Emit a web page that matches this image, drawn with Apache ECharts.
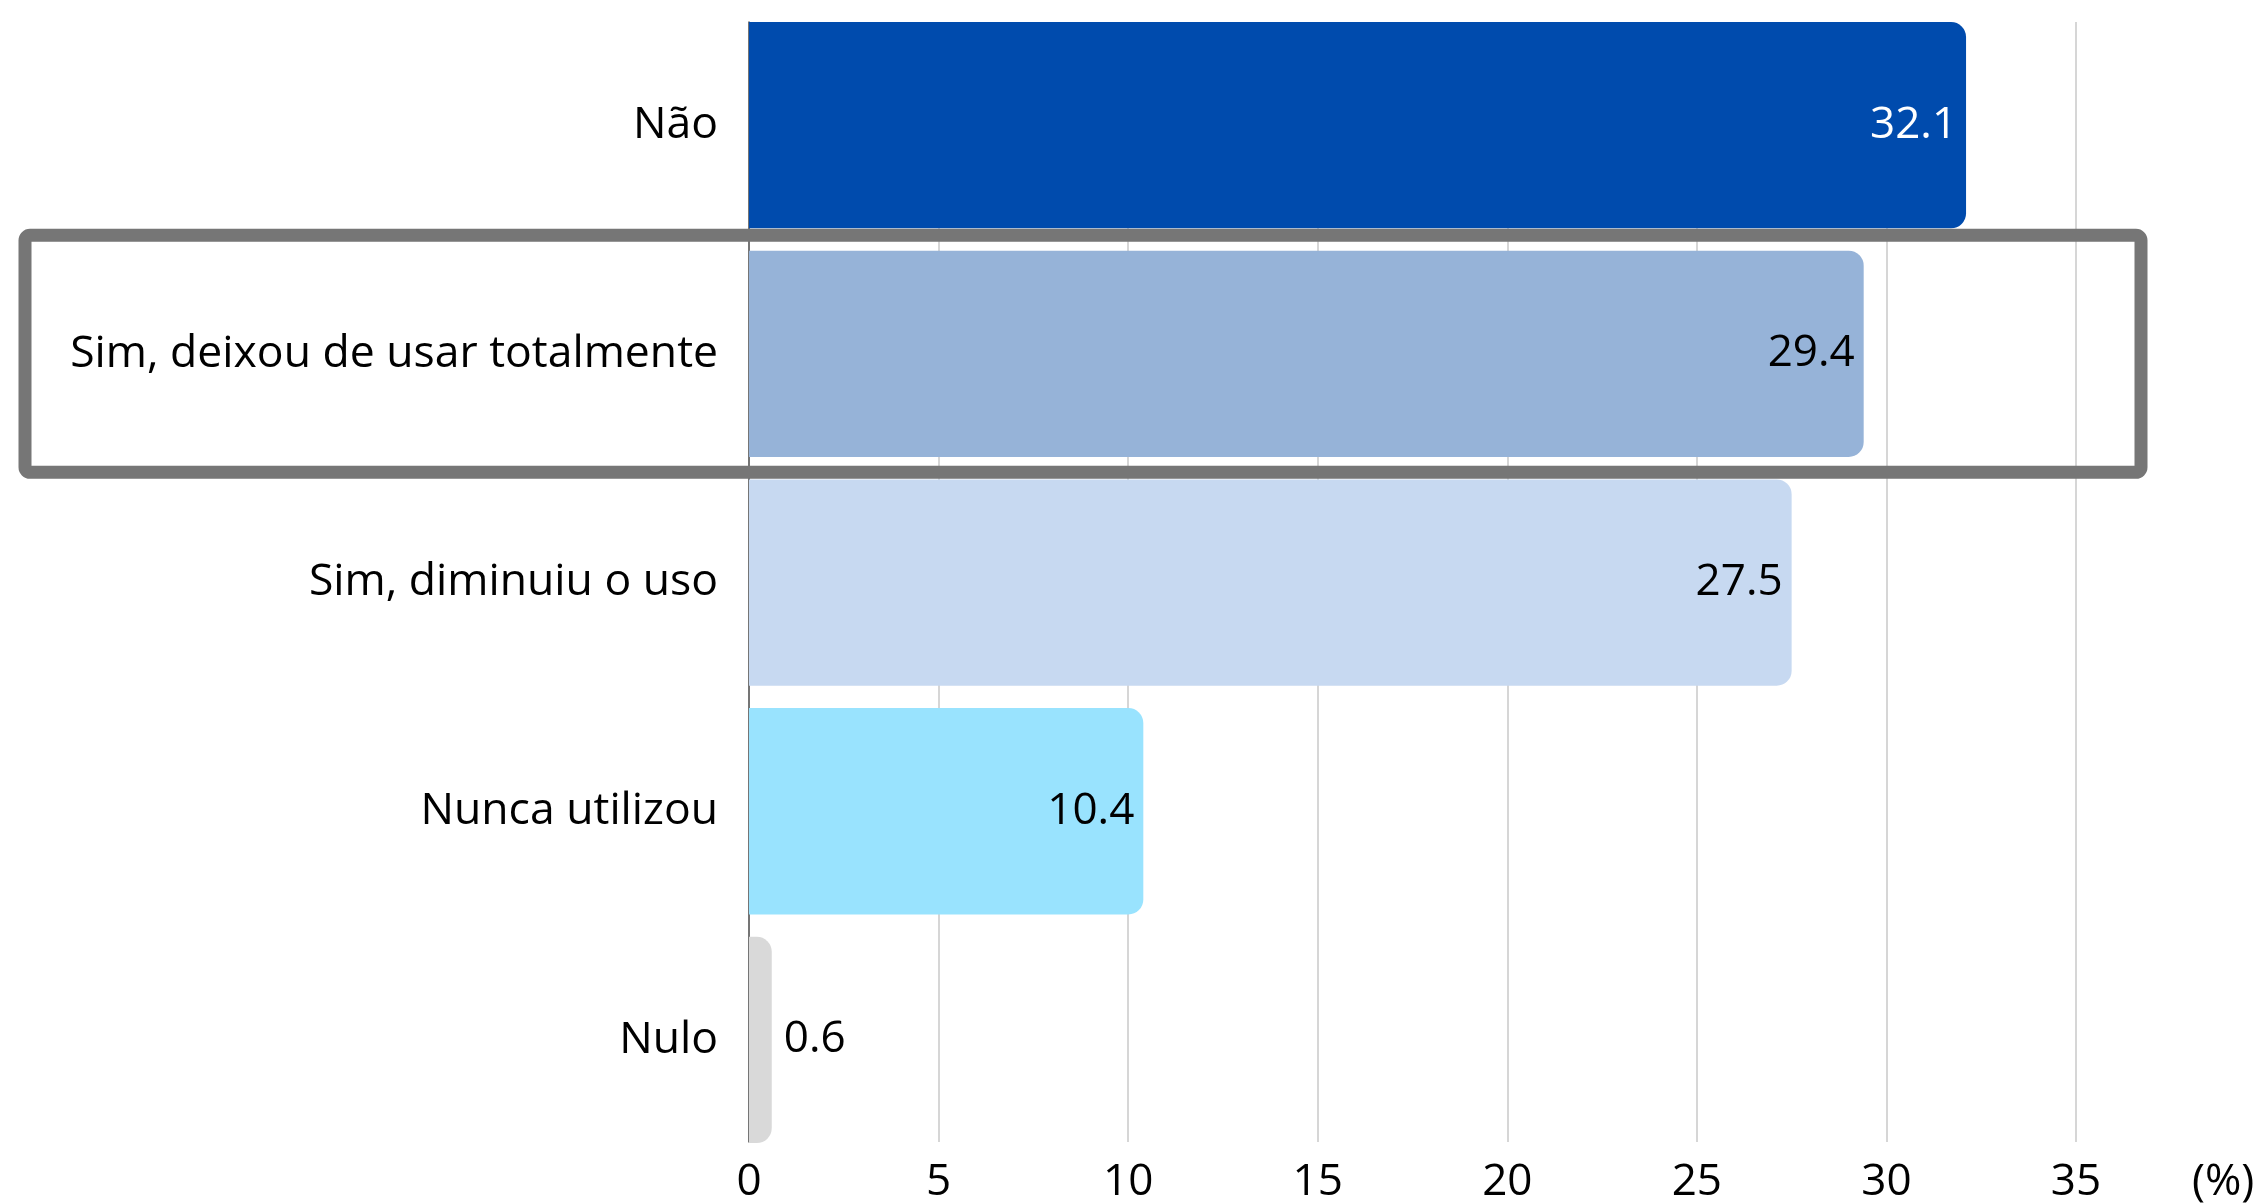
<!DOCTYPE html>
<html>
<head>
<meta charset="utf-8">
<script src="https://cdn.jsdelivr.net/npm/echarts@6/dist/echarts.min.js"></script>
<style>
  html, body { margin: 0; padding: 0; background: #fff; }
  #main { width: 2260px; height: 1204px; }
</style>
</head>
<body>
<div id="main"></div>
<script>
// dados do gráfico
var categories = ['Não', 'Sim, deixou de usar totalmente', 'Sim, diminuiu o uso', 'Nunca utilizou', 'Nulo'];
var values = [32.1, 29.4, 27.5, 10.4, 0.6];
var barColors = ['#004bad', '#96b3d8', '#c7d9f1', '#99e3fe', '#d9d9d9'];
var labelColors = ['#ffffff', '#000000', '#000000', '#000000', '#000000'];
var ticks = [0, 5, 10, 15, 20, 25, 30, 35];

var font = 'Open Sans';

var myChart = echarts.init(document.getElementById('main'));

var seriesData = values.map(function (v, i) {
    var outside = v < 3;
    return {
        value: v,
        itemStyle: { color: barColors[i] },
        label: {
            position: outside ? 'right' : 'insideRight',
            distance: outside ? 12 : 9,
            color: labelColors[i]
        }
    };
});

var option = {
    animation: false,
    backgroundColor: '#ffffff',
    grid: [
        // barras
        { left: 749, right: 184, top: 10.8, height: 1143.5 },
        // linhas de grade / eixo
        { left: 749, right: 184, top: 22, height: 1121 }
    ],
    xAxis: [{
        gridIndex: 0,
        type: 'value',
        min: ticks[0],
        max: ticks[ticks.length - 1],
        interval: 5,
        show: false
    }, {
        gridIndex: 1,
        type: 'value',
        min: ticks[0],
        max: ticks[ticks.length - 1],
        interval: 5,
        axisLine: { show: false },
        axisTick: { show: false },
        splitLine: { show: true, lineStyle: { color: '#c8c8c8', width: 1.5 } },
        axisLabel: { fontFamily: font, fontSize: 44, color: '#000', margin: 18 },
        name: '(%)',
        nameLocation: 'end',
        nameGap: 116,
        nameTextStyle: {
            fontFamily: font,
            fontSize: 44,
            color: '#000',
            verticalAlign: 'top',
            padding: [18, 0, 0, 0]
        }
    }],
    yAxis: [{
        gridIndex: 0,
        type: 'category',
        inverse: true,
        data: categories,
        axisLine: { show: false },
        axisTick: { show: false },
        axisLabel: { fontFamily: font, fontSize: 44.5, color: '#000', margin: 31 }
    }, {
        gridIndex: 1,
        type: 'value',
        axisLine: { show: true, lineStyle: { color: '#555', width: 1.5 } },
        axisTick: { show: false },
        axisLabel: { show: false },
        splitLine: { show: false }
    }],
    series: [{
        type: 'bar',
        xAxisIndex: 0,
        yAxisIndex: 0,
        barCategoryGap: '9.8%',
        data: seriesData,
        itemStyle: { borderRadius: [0, 15, 15, 0] },
        label: {
            show: true,
            fontFamily: font,
            fontSize: 44
        }
    }]
};

myChart.setOption(option);

// caixa de destaque em volta de "Sim, deixou de usar totalmente"
var cy = myChart.convertToPixel({ yAxisIndex: 0 }, categories[1]);
myChart.setOption({
    graphic: [{
        type: 'rect',
        z: 100,
        shape: { x: 25, y: cy - 118.5, width: 2116, height: 237, r: 5 },
        style: { fill: 'none', stroke: '#767676', lineWidth: 13 }
    }]
});
</script>
</body>
</html>
